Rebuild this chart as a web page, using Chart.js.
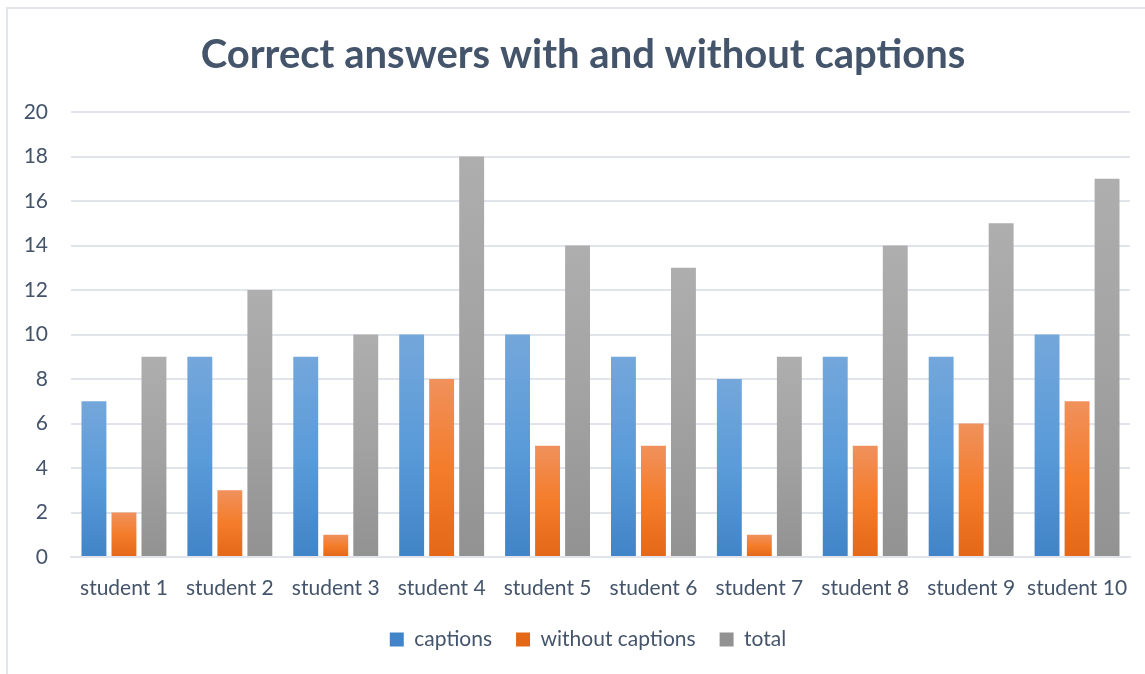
<!DOCTYPE html>
<html>
<head>
<meta charset="utf-8">
<script src="https://cdn.jsdelivr.net/npm/chart.js@4"></script>
<style>
  html, body { margin: 0; padding: 0; background: #fff; }
  #wrap { position: relative; width: 1145px; height: 674px; overflow: hidden; }
  #frame { position: absolute; left: 6px; top: 7px; width: 1200px; height: 800px; border: 2px solid #E3E6EA; box-sizing: border-box; }
  #chart { position: absolute; left: 0; top: 0; }
</style>
</head>
<body>
<div id="wrap">
  <div id="frame"></div>
  <canvas id="chart" width="1145" height="674"></canvas>
</div>
<script>
// -------------------------
// Data
// -------------------------
const students = ["student 1", "student 2", "student 3", "student 4", "student 5",
  "student 6", "student 7", "student 8", "student 9", "student 10"];
const captions = [7, 9, 9, 10, 10, 9, 8, 9, 9, 10];
const withoutCaptions = [2, 3, 1, 8, 5, 5, 1, 5, 6, 7];
const total = [9, 12, 10, 18, 14, 13, 9, 14, 15, 17];

const textColor = "#44546A";
const gridColor = "#E1E5EB";

// top -> bottom gradient stops per series
const blueStops = ["#74A7DB", "#5A9BD9", "#4184C7"];
const orangeStops = ["#F0915C", "#F47C2A", "#E36818"];
const greyStops = ["#AEAEAE", "#A2A2A2", "#929292"];

// per-bar vertical gradient
function barGradient(stops) {
  return ctx => {
    const chart = ctx.chart;
    if (!chart.chartArea || ctx.raw == null) return stops[1];
    const y = chart.scales.y;
    const top = y.getPixelForValue(ctx.raw);
    const bot = y.getPixelForValue(0);
    const g = chart.ctx.createLinearGradient(0, top, 0, bot);
    g.addColorStop(0, stops[0]);
    g.addColorStop(0.5, stops[1]);
    g.addColorStop(1, stops[2]);
    return g;
  };
}

// title + legend sit a bit right of the canvas center in the original
const nudgeBlocks = {
  id: "nudgeBlocks",
  afterLayout(chart) {
    chart.titleBlock.left += 18;
    chart.titleBlock.right += 18;
    chart.legend.left += 23;
    chart.legend.right += 23;
  },
};

new Chart(document.getElementById("chart"), {
  type: "bar",
  data: {
    labels: students,
    datasets: [
      { label: "captions", data: captions, backgroundColor: barGradient(blueStops) },
      { label: "without captions", data: withoutCaptions, backgroundColor: barGradient(orangeStops) },
      { label: "total", data: total, backgroundColor: barGradient(greyStops) },
    ],
  },
  plugins: [nudgeBlocks],
  options: {
    responsive: false,
    animation: false,
    categoryPercentage: 0.85,
    barPercentage: 0.83,
    layout: { padding: { top: 10, right: 15, bottom: 14, left: 0 } },
    plugins: {
      title: {
        display: true,
        text: "Correct answers with and without captions",
        color: textColor,
        font: { family: "Lato", size: 40, weight: "bold" },
        padding: { top: 21, bottom: 33 },
      },
      legend: {
        position: "bottom",
        labels: {
          color: textColor,
          font: { family: "Lato", size: 21 },
          boxWidth: 14,
          boxHeight: 14,
          padding: 24,
        },
      },
      tooltip: { enabled: false },
    },
    scales: {
      x: {
        grid: { display: false },
        border: { color: gridColor, width: 2 },
        ticks: {
          color: textColor,
          font: { family: "Lato", size: 21 },
          padding: 11,
          maxRotation: 0,
          minRotation: 0,
          autoSkip: false,
        },
        afterFit: s => { s.height = 48; },
      },
      y: {
        min: 0,
        max: 20,
        ticks: { stepSize: 2, color: textColor, font: { family: "Lato", size: 21 }, padding: 23 },
        grid: { color: gridColor, lineWidth: 2, drawTicks: false },
        border: { display: false },
        afterFit: s => { s.width = 71; },
      },
    },
  },
});
</script>
</body>
</html>
